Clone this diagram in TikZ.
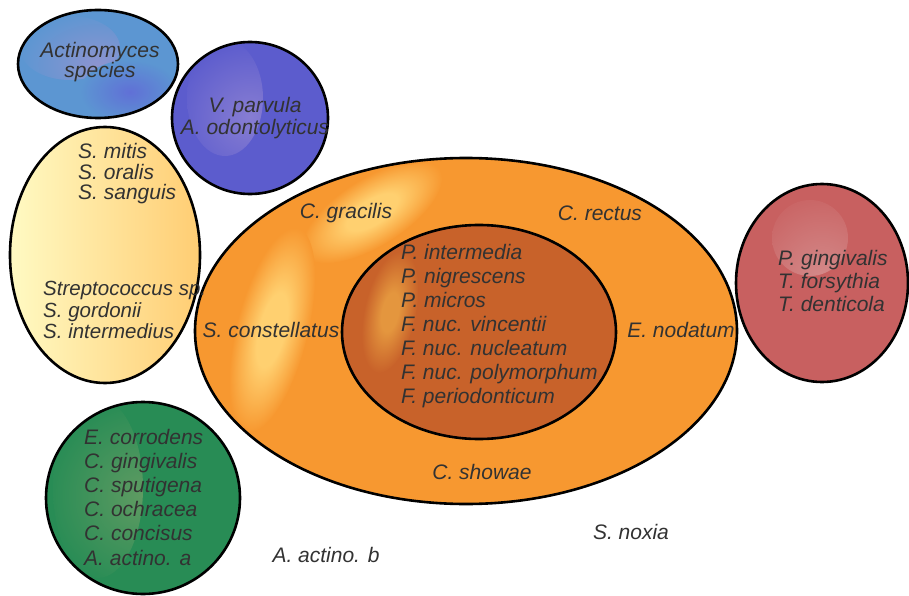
\documentclass[tikz,border=0pt]{standalone}
\usepackage{fontspec}
\setmainfont{Liberation Sans}
\usetikzlibrary{shapes.geometric}
\definecolor{actb}{RGB}{92,150,210}
\definecolor{acth}{RGB}{140,148,208}
\definecolor{actp}{RGB}{96,112,214}
\definecolor{vpb}{RGB}{92,92,205}
\definecolor{vph}{RGB}{135,125,210}
\definecolor{yl}{RGB}{255,250,195}
\definecolor{yr}{RGB}{255,205,115}
\definecolor{orb}{RGB}{247,152,48}
\definecolor{orh}{RGB}{255,208,112}
\definecolor{inb}{RGB}{200,98,42}
\definecolor{inh}{RGB}{228,150,62}
\definecolor{rdb}{RGB}{200,96,96}
\definecolor{rdh}{RGB}{212,140,140}
\definecolor{grb}{RGB}{40,140,85}
\definecolor{grh}{RGB}{95,155,98}
\definecolor{txtc}{RGB}{50,50,50}
\pgfdeclareradialshading{orglow}{\pgfpoint{0bp}{0bp}}{color(0bp)=(orh); color(9bp)=(orh); color(18bp)=(orh!45!orb); color(25bp)=(orb); color(50bp)=(orb)}
\pgfdeclareradialshading{inglow}{\pgfpoint{0bp}{0bp}}{color(0bp)=(inh); color(8bp)=(inh); color(18bp)=(inh!40!inb); color(25bp)=(inb); color(50bp)=(inb)}
\begin{document}
\begin{tikzpicture}[x=1pt,y=-1pt,
  blob/.style={ellipse, draw=black, line width=2.6pt, inner sep=0pt},
  lbl/.style={text=txtc, inner sep=0pt, font=\fontsize{21}{24}\selectfont\itshape}]
\useasboundingbox (0,0) rectangle (909,596);

% Actinomyces
\node[blob, fill=actb, minimum width=160pt, minimum height=108pt, path picture={
  \shade[inner color=acth, outer color=actb] ([shift={(-28,-16)}]path picture bounding box.center) ellipse [x radius=50, y radius=32];
  \shade[inner color=actp, outer color=actb] ([shift={(32,28)}]path picture bounding box.center) ellipse [x radius=50, y radius=32];
}] (act) at (98,64) {};
% V. parvula
\node[blob, fill=vpb, minimum width=156pt, minimum height=152pt, path picture={
  \shade[inner color=vph, outer color=vpb] ([shift={(-25,-20)}]path picture bounding box.center) ellipse [x radius=38, y radius=58];
}] (vp) at (250,118) {};
% Streptococci
\node[blob, left color=yl, right color=yr, minimum width=190pt, minimum height=256pt] (st) at (105,255) {};
% Green
\node[blob, fill=grb, minimum width=194pt, minimum height=192pt, path picture={
  \shade[inner color=grh, outer color=grb] ([shift={(-45,-10)}]path picture bounding box.center) ellipse [x radius=45, y radius=90];
}] (gr) at (143,498) {};
% Orange complex
\node[blob, fill=orb, minimum width=542pt, minimum height=346pt] (orng) at (466,331) {};
\begin{scope}
  \clip (466,331) ellipse [x radius=268, y radius=170];
  \shade[shading=orglow, transform canvas={shift={(372,212)}, rotate=-58}] (0,0) ellipse [x radius=34, y radius=80];
  \shade[shading=orglow, transform canvas={shift={(272,330)}, rotate=-14}] (0,0) ellipse [x radius=36, y radius=105];
\end{scope}
% Inner complex
\node[blob, fill=inb, minimum width=274pt, minimum height=214pt] (inr) at (479,332) {};
\begin{scope}
  \clip (479,332) ellipse [x radius=134, y radius=105];
  \shade[shading=inglow, transform canvas={shift={(390,312)}, rotate=-12}] (0,0) ellipse [x radius=26, y radius=62];
\end{scope}
% Red complex
\node[blob, fill=rdb, minimum width=172pt, minimum height=198pt, path picture={
  \shade[inner color=rdh, outer color=rdb] ([shift={(-12,-45)}]path picture bounding box.center) ellipse [x radius=38, y radius=38];
}] (rd) at (822,283) {};

% Labels
\node[lbl, align=center, font=\fontsize{21}{20}\selectfont\itshape] (tact) at (100,62) {Actinomyces\\species};
\node[lbl, align=center, font=\fontsize{21}{22}\selectfont\itshape] (tvp) at (255,118) {V. parvula\\A. odontolyticus};
\node[lbl, align=left, anchor=west, font=\fontsize{21}{20.5}\selectfont\itshape] (tst1) at (78,174) {S. mitis\\S. oralis\\S. sanguis};
\node[lbl, align=left, anchor=west, font=\fontsize{20.5}{21.5}\selectfont\itshape] (tst2) at (43,310) {Streptococcus sp.\\S. gordonii\\S. intermedius};
\node[lbl] (tcg) at (346,213) {C. gracilis};
\node[lbl] (tcr) at (600,213) {C. rectus};
\node[lbl] (tsc) at (271,330) {S. constellatus};
\node[lbl] (ten) at (681,330) {E. nodatum};
\node[lbl] (tcs) at (482,472) {C. showae};
\node[lbl, align=left, anchor=west] (tin) at (401,326) {P. intermedia\\P. nigrescens\\P. micros\\F. nuc. vincentii\\F. nuc. nucleatum\\F. nuc. polymorphum\\F. periodonticum};
\node[lbl, align=left, anchor=west, font=\fontsize{21}{23}\selectfont\itshape] (trd) at (778,281) {P. gingivalis\\T. forsythia\\T. denticola};
\node[lbl, align=left, anchor=west, font=\fontsize{21}{24.2}\selectfont\itshape] (tgr) at (84,497) {E. corrodens\\C. gingivalis\\C. sputigena\\C. ochracea\\C. concisus\\A. actino. a};
\node[lbl] (tab) at (326,555) {A. actino. b};
\node[lbl] (tsn) at (631,532) {S. noxia};
\end{tikzpicture}
\end{document}
